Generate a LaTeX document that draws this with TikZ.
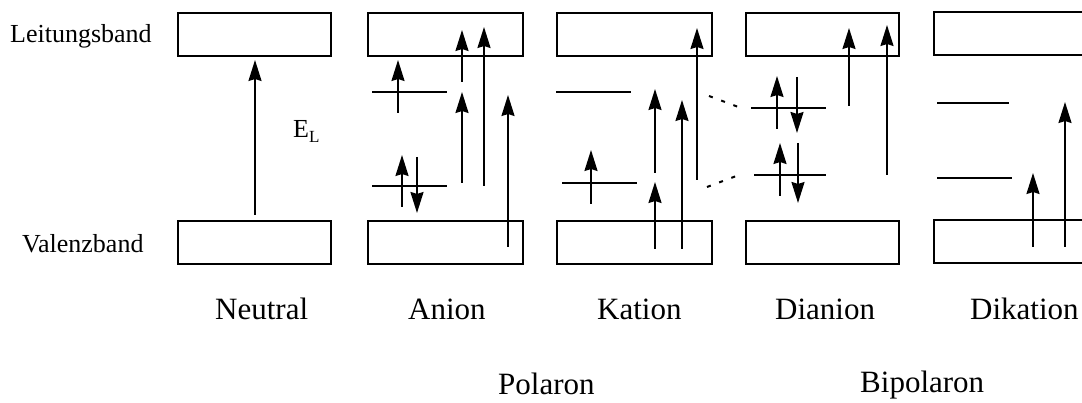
\documentclass[tikz,border=0pt]{standalone}
\usepackage{fontspec}
\setmainfont{Liberation Serif}
\usetikzlibrary{arrows.meta}
\begin{document}
\begin{tikzpicture}[x=1pt,y=-1pt,
  band/.style={draw,line width=2pt,minimum width=153pt,minimum height=43pt,inner sep=0pt,anchor=north west},
  lvl/.style={line width=2pt},
  exc/.style={line width=2pt,-{Stealth[length=21pt,width=13pt,inset=2pt]}},
  dots/.style={line width=2pt,dash pattern=on 4pt off 9pt},
  side/.style={anchor=base west,inner sep=0pt,font=\fontsize{26}{30}\selectfont},
  lab/.style={anchor=base west,inner sep=0pt,font=\fontsize{31}{36}\selectfont}]
\useasboundingbox (0,0) rectangle (1082,403);
% bands
\node[band] (ntop) at (177,12) {};
\node[band] (nbot) at (177,220) {};
\node[band,minimum width=155pt] (atop) at (367,12) {};
\node[band,minimum width=155pt] (abot) at (367,220) {};
\node[band,minimum width=155pt] (ktop) at (556,12) {};
\node[band,minimum width=155pt] (kbot) at (556,220) {};
\node[band] (dtop) at (745,12) {};
\node[band] (dbot) at (745,220) {};
\draw[line width=2pt] (1084,12) -- (934,12) -- (934,55) -- (1084,55);
\draw[line width=2pt] (1084,220) -- (934,220) -- (934,263) -- (1084,263);
% labels
\node[side] (lb) at (10,43) {Leitungsband};
\node[side] (vb) at (22,253) {Valenzband};
\node[side] (EL) at (293,138) {E\raisebox{-5pt}{\fontsize{17}{17}\selectfont L}};
\node[lab] (tn) at (215,320) {Neutral};
\node[lab] (ta) at (408,320) {Anion};
\node[lab] (tk) at (597,320) {Kation};
\node[lab] (td) at (775,320) {Dianion};
\node[lab] (tdk) at (970,320) {Dikation};
\node[lab] (tp) at (498,395) {Polaron};
\node[lab] (tbp) at (860,392) {Bipolaron};
% Neutral
\draw[exc] (255,215) -- (255,60);
% Anion
\draw[lvl] (372,92) -- (447,92);
\draw[lvl] (372,186) -- (447,186);
\draw[exc] (398,113) -- (398,60);
\draw[exc] (402,207) -- (402,155);
\draw[exc] (417,157) -- (417,213);
\draw[exc] (462,82) -- (462,30);
\draw[exc] (462,183) -- (462,92);
\draw[exc] (484,186) -- (484,27);
\draw[exc] (508,247) -- (508,95);
% Kation
\draw[lvl] (556,92) -- (631,92);
\draw[lvl] (562,183) -- (637,183);
\draw[exc] (591,204) -- (591,150);
\draw[exc] (655,173) -- (655,89);
\draw[exc] (655,249) -- (655,182);
\draw[exc] (682,249) -- (682,100);
\draw[exc] (697,180) -- (697,28);
% dotted links
\draw[dots] (709,96) -- (741,108);
\draw[dots] (707,187) -- (739,175);
% Dianion
\draw[lvl] (751,108) -- (826,108);
\draw[lvl] (754,175) -- (826,175);
\draw[exc] (777,129) -- (777,76);
\draw[exc] (797,77) -- (797,133);
\draw[exc] (780,196) -- (780,143);
\draw[exc] (798,143) -- (798,203);
\draw[exc] (849,106) -- (849,28);
\draw[exc] (887,175) -- (887,25);
% Dikation
\draw[lvl] (937,103) -- (1009,103);
\draw[lvl] (937,178) -- (1012,178);
\draw[exc] (1033,247) -- (1033,173);
\draw[exc] (1065,247) -- (1065,102);
\end{tikzpicture}
\end{document}
